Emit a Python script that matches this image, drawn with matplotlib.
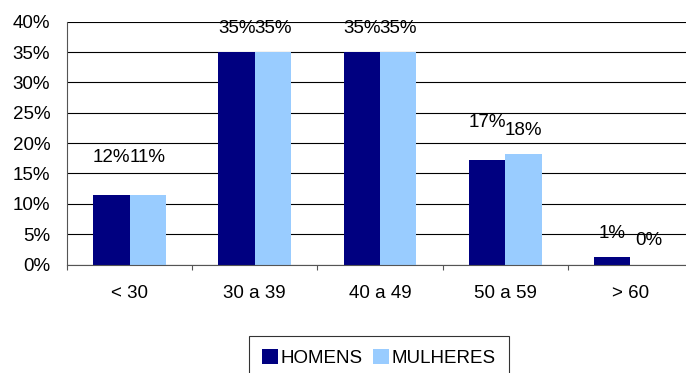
import numpy as np
import matplotlib.pyplot as plt

plt.rcParams['font.family'] = ['Liberation Sans', 'DejaVu Sans']

faixas = ["< 30", "30 a 39", "40 a 49", "50 a 59", "> 60"]
homens = [11.5, 35.0, 35.0, 17.2, 1.2]
mulheres = [11.4, 35.0, 35.0, 18.2, 0.0]

# vertical gap (points) between bar top and its label
off_h = [27, 17, 17, 27, 17]
off_m = [27, 17, 17, 17, 17]

cor_h = "#000080"
cor_m = "#99CCFF"
fs = 13.5

fig = plt.figure(figsize=(6.86, 3.73), dpi=100)
ax = fig.add_axes([67 / 686, 108.5 / 373, 626 / 686, 242.8 / 373])

x = np.arange(len(faixas))
w = 0.29
b1 = ax.bar(x - w / 2, homens, w, color=cor_h, label="HOMENS", zorder=2)
b2 = ax.bar(x + w / 2, mulheres, w, color=cor_m, label="MULHERES", zorder=2)

for xi, v, o in zip(x - w / 2, homens, off_h):
    ax.annotate(f"{v:.0f}%", (xi, v), xytext=(0, o), textcoords="offset points",
                ha="center", va="center", fontsize=fs)
for xi, v, o in zip(x + w / 2, mulheres, off_m):
    ax.annotate(f"{v:.0f}%", (xi, v), xytext=(0, o), textcoords="offset points",
                ha="center", va="center", fontsize=fs)

ax.set_xlim(-0.5, len(faixas) - 0.5)
ax.set_ylim(0, 40)
ax.set_yticks(np.arange(0, 41, 5))
ax.set_yticklabels([f"{t}%" for t in range(0, 41, 5)], fontsize=fs)
ax.yaxis.grid(True, color="black", linewidth=0.8, zorder=0)
ax.set_axisbelow(True)
ax.tick_params(axis="y", length=0, pad=12)

ax.set_xticks(x)
ax.set_xticklabels(faixas, fontsize=fs)
ax.set_xticks(np.arange(-0.5, len(faixas), 1), minor=True)
ax.tick_params(axis="x", which="major", length=0, pad=15)
ax.tick_params(axis="x", which="minor", length=3.6, width=0.8, color="#555555")

for s in ["top", "right"]:
    ax.spines[s].set_visible(False)
for s in ["left", "bottom"]:
    ax.spines[s].set_color("#555555")
    ax.spines[s].set_linewidth(0.8)

leg = fig.legend(handles=[b1, b2], loc="upper center", ncol=2,
                 bbox_to_anchor=(379 / 686, 1 - 336 / 373), fontsize=fs,
                 frameon=True, fancybox=False, edgecolor="black",
                 borderaxespad=0, handlelength=0.85, handleheight=0.85,
                 handletextpad=0.15, columnspacing=0.55, borderpad=0.7)
leg.get_frame().set_linewidth(0.8)

fig.savefig("out.png", dpi=100)
